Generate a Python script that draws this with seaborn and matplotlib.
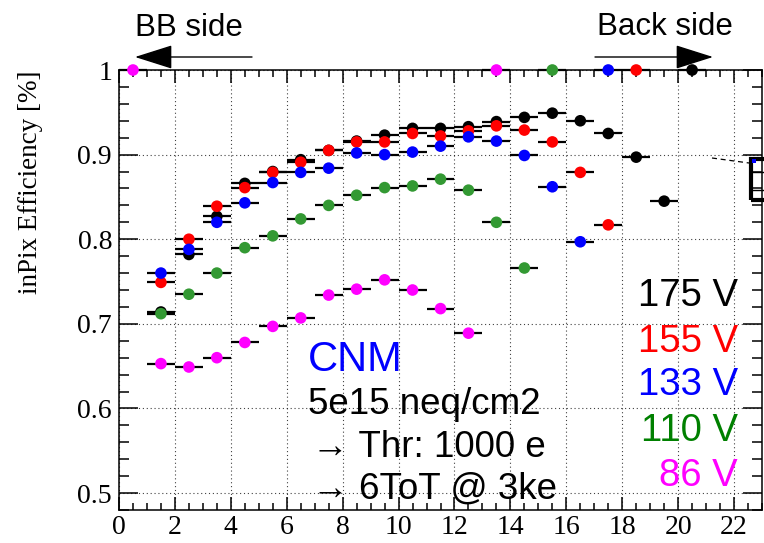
import numpy as np
import pandas as pd
import matplotlib
matplotlib.use("Agg")
import matplotlib.pyplot as plt
import seaborn as sns
from matplotlib.ticker import MultipleLocator, FixedLocator, FixedFormatter
from matplotlib.patches import Rectangle, FancyArrowPatch
from matplotlib.lines import Line2D

# ---- data: in-pixel efficiency per depth bin, one array per bias voltage ----
bias_labels = ["175 V", "155 V", "133 V", "110 V", "86 V"]

bins_175 = [1.5, 2.5, 3.5, 4.5, 5.5, 6.5, 7.5, 8.5, 9.5, 10.5, 11.5, 12.5, 13.5,
            14.5, 15.5, 16.5, 17.5, 18.5, 19.5, 20.5]
eff_175 = [0.714, 0.782, 0.827, 0.866, 0.880, 0.894, 0.905, 0.916, 0.923, 0.931,
           0.931, 0.933, 0.939, 0.944, 0.949, 0.940, 0.925, 0.897, 0.845, 1.000]

bins_155 = [1.5, 2.5, 3.5, 4.5, 5.5, 6.5, 7.5, 8.5, 9.5, 10.5, 11.5, 12.5, 13.5,
            14.5, 15.5, 16.5, 17.5, 18.5]
eff_155 = [0.749, 0.800, 0.839, 0.861, 0.879, 0.891, 0.905, 0.915, 0.915, 0.925,
           0.922, 0.928, 0.934, 0.929, 0.915, 0.879, 0.817, 1.000]

bins_133 = [1.5, 2.5, 3.5, 4.5, 5.5, 6.5, 7.5, 8.5, 9.5, 10.5, 11.5, 12.5, 13.5,
            14.5, 15.5, 16.5, 17.5]
eff_133 = [0.760, 0.788, 0.820, 0.843, 0.867, 0.879, 0.884, 0.902, 0.900, 0.903,
           0.910, 0.921, 0.916, 0.899, 0.862, 0.797, 1.000]

bins_110 = [1.5, 2.5, 3.5, 4.5, 5.5, 6.5, 7.5, 8.5, 9.5, 10.5, 11.5, 12.5, 13.5,
            14.5, 15.5]
eff_110 = [0.712, 0.735, 0.760, 0.790, 0.804, 0.824, 0.840, 0.852, 0.861, 0.863,
           0.871, 0.858, 0.820, 0.766, 1.000]

bins_86 = [0.5, 1.5, 2.5, 3.5, 4.5, 5.5, 6.5, 7.5, 8.5, 9.5, 10.5, 11.5, 12.5, 13.5]
eff_86 = [1.000, 0.653, 0.649, 0.660, 0.678, 0.697, 0.707, 0.734, 0.741, 0.752,
          0.740, 0.718, 0.689, 1.000]

bin_half_width = 0.5

x_ticks = [0, 2, 4, 6, 8, 10, 12, 14, 16, 18, 20, 22]
y_ticks = [0.5, 0.6, 0.7, 0.8, 0.9, 1.0]
y_tick_labels = ["0.5", "0.6", "0.7", "0.8", "0.9", "1"]

marker_colors = ["#000000", "#ff0000", "#0000ff", "#339933", "#ff00ff"]
label_colors = ["#000000", "#ff0000", "#0000ff", "#008000", "#ff00ff"]

series = [(bins_175, eff_175), (bins_155, eff_155), (bins_133, eff_133),
          (bins_110, eff_110), (bins_86, eff_86)]
frames = []
for lab, (b, e) in zip(bias_labels, series):
    frames.append(pd.DataFrame({"depth": b, "eff": e, "bias": lab}))
df = pd.concat(frames, ignore_index=True)

# ---- style ----
sns.set_theme(style="ticks")
plt.rcParams["font.family"] = ["Liberation Sans", "DejaVu Sans"]
plt.rcParams.update({
    "axes.linewidth": 1.1,
    "text.color": "black",
    "axes.labelcolor": "black",
    "axes.edgecolor": "black",
    "xtick.color": "black",
    "ytick.color": "black",
})

W, H = 764, 543
fig = plt.figure(figsize=(W / 100, H / 100), dpi=100)
fig.patch.set_facecolor("white")


def fx(px):
    return px / W


def fy(py):
    return 1 - py / H


ax = fig.add_axes([fx(119), fy(510), fx(762) - fx(119), fy(70) - fy(510)])
ax.set_facecolor("white")

# horizontal bin-width bars, then the markers on top
ax.errorbar(df["depth"], df["eff"], xerr=bin_half_width, fmt="none",
            ecolor="black", elinewidth=1.6, capsize=0, zorder=2, clip_on=False)
sns.scatterplot(data=df, x="depth", y="eff", hue="bias", hue_order=bias_labels,
                palette=marker_colors, s=70, linewidth=0, legend=False,
                zorder=3, clip_on=False, ax=ax)

ax.set_xlim(0, 23)
ax.set_ylim(0.48, 1.0)
ax.set_xlabel("")
ax.set_ylabel("inPix Efficiency [%]", loc="top", fontsize=19.5,
              family="Liberation Serif", color="black")
ax.yaxis.set_label_coords(-0.118, 1.0)

ax.xaxis.set_major_locator(FixedLocator(x_ticks))
ax.xaxis.set_minor_locator(MultipleLocator(0.5))
ax.yaxis.set_major_locator(FixedLocator(y_ticks))
ax.yaxis.set_major_formatter(FixedFormatter(y_tick_labels))
ax.yaxis.set_minor_locator(MultipleLocator(0.02))

ax.tick_params(which="both", direction="in", top=True, right=True,
               color="black", width=1.1)
ax.tick_params(axis="x", which="major", length=9.5, pad=3.5)
ax.tick_params(axis="x", which="minor", length=5)
ax.tick_params(axis="y", which="major", length=14, pad=5)
ax.tick_params(axis="y", which="minor", length=7)
for lbl in ax.get_xticklabels() + ax.get_yticklabels():
    lbl.set_fontfamily("Liberation Serif")
    lbl.set_fontsize(20)
    lbl.set_color("black")

ax.grid(True, which="major", color="black", linestyle=(0, (1, 2.5)),
        linewidth=0.8, alpha=0.75)
for sp in ax.spines.values():
    sp.set_color("black")
    sp.set_visible(True)

# ---- side annotations ----
fig.text(fx(135), fy(36), "BB side", fontsize=22.5, va="baseline", ha="left")
fig.text(fx(597), fy(35), "Back side", fontsize=22.5, va="baseline", ha="left")
arrow_kw = dict(arrowstyle="-|>,head_length=1.2,head_width=0.38",
                mutation_scale=20, lw=1.0, color="black",
                shrinkA=0, shrinkB=0)
fig.add_artist(FancyArrowPatch((fx(252), fy(57)), (fx(135), fy(57)),
                               transform=fig.transFigure, **arrow_kw))
fig.add_artist(FancyArrowPatch((fx(595), fy(57)), (fx(713), fy(57)),
                               transform=fig.transFigure, **arrow_kw))

# ---- sample description ----
fig.text(fx(308), fy(371), "CNM", fontsize=30, color="#0000ff", va="baseline")
fig.text(fx(308), fy(414), "5e15 neq/cm2", fontsize=26.5, va="baseline")
fig.text(fx(312), fy(457), "\u2192 Thr: 1000 e", fontsize=26.5, va="baseline")
fig.text(fx(312), fy(499), "\u2192 6ToT @ 3ke", fontsize=26.5, va="baseline")

# ---- bias voltage labels ----
label_baselines = [306, 352, 395, 441, 486]
for lab, col, yb in zip(bias_labels, label_colors, label_baselines):
    fig.text(fx(738), fy(yb), lab, fontsize=27.5, color=col,
             va="baseline", ha="right")

# ---- zoom box partly outside the canvas ----
fig.add_artist(Rectangle((fx(751), fy(200)), fx(30), fy(159) - fy(200),
                         transform=fig.transFigure, fill=False,
                         edgecolor="black", linewidth=3.0))
for yy in (172, 190):
    fig.add_artist(Line2D([fx(751), fx(764)], [fy(yy), fy(yy)],
                          transform=fig.transFigure, color="black", lw=1.0))
fig.add_artist(Rectangle((fx(752), fy(163)), fx(4), fy(159) - fy(163),
                         transform=fig.transFigure, color="#0000ff", lw=0))
fig.add_artist(Line2D([fx(712), fx(749)], [fy(158), fy(163)],
                      transform=fig.transFigure, color="black", lw=0.9,
                      linestyle=(0, (4, 3))))

fig.savefig("out.png", dpi=100, facecolor="white")
